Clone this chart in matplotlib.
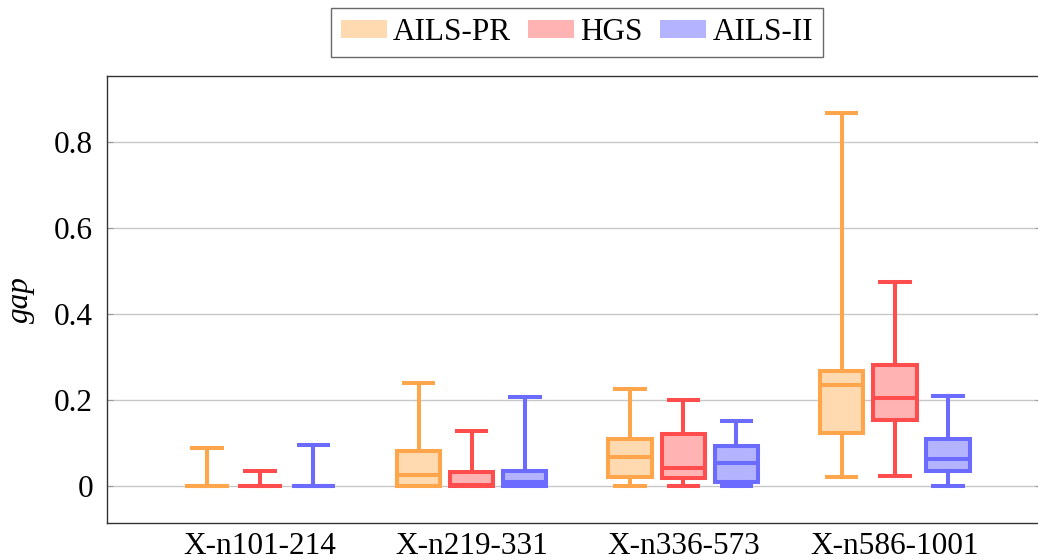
import numpy as np
import matplotlib
matplotlib.use("Agg")
import matplotlib.pyplot as plt
from matplotlib.patches import Patch

plt.rcParams['font.family'] = ['Liberation Serif', 'DejaVu Serif']
plt.rcParams['mathtext.fontset'] = 'stix'

groups = ['X-n101-214', 'X-n219-331', 'X-n336-573', 'X-n586-1001']
methods = ['AILS-PR', 'HGS', 'AILS-II']

# box stats per method, one value per group
whislo = {'AILS-PR': [0.0, 0.0, 0.0, 0.022],
          'HGS':     [0.0, 0.0, 0.0, 0.024],
          'AILS-II': [0.0, 0.0, 0.0, 0.001]}
q1 = {'AILS-PR': [0.0, 0.0, 0.021, 0.123],
      'HGS':     [0.0, 0.0, 0.018, 0.154],
      'AILS-II': [0.0, 0.0, 0.009, 0.036]}
med = {'AILS-PR': [0.0, 0.025, 0.067, 0.236],
       'HGS':     [0.0, 0.002, 0.043, 0.206],
       'AILS-II': [0.0, 0.010, 0.053, 0.063]}
q3 = {'AILS-PR': [0.0, 0.081, 0.110, 0.269],
      'HGS':     [0.0, 0.034, 0.121, 0.281],
      'AILS-II': [0.0, 0.036, 0.094, 0.110]}
whishi = {'AILS-PR': [0.088, 0.241, 0.227, 0.867],
          'HGS':     [0.036, 0.129, 0.201, 0.475],
          'AILS-II': [0.095, 0.208, 0.151, 0.210]}

edge_colors = {'AILS-PR': '#FFA64D', 'HGS': '#FF4D4D', 'AILS-II': '#6B6BFF'}
fill_colors = {'AILS-PR': '#FFD9B0', 'HGS': '#FFB3B3', 'AILS-II': '#B3B3FF'}

fig = plt.figure(figsize=(10.38, 5.6), dpi=100)
# the right edge of the frame sits just past the picture, as in the reference
ax = fig.add_axes([107 / 1038, 37.3 / 560, (1041 - 107) / 1038, 446.7 / 560])

centers = np.arange(1, len(groups) + 1)
offsets = [-0.251, 0.0, 0.251]
width = 0.205

for m, off in zip(methods, offsets):
    stats = []
    for i in range(len(groups)):
        stats.append({'whislo': whislo[m][i], 'q1': q1[m][i], 'med': med[m][i],
                      'q3': q3[m][i], 'whishi': whishi[m][i], 'fliers': []})
    ec = edge_colors[m]
    lw = 2.9
    ax.bxp(stats, positions=centers + off, widths=width, patch_artist=True,
           showfliers=False, capwidths=0.158,
           boxprops=dict(facecolor=fill_colors[m], edgecolor=ec, linewidth=lw),
           medianprops=dict(color=ec, linewidth=lw, solid_capstyle='butt'),
           whiskerprops=dict(color=ec, linewidth=lw),
           capprops=dict(color=ec, linewidth=lw, solid_capstyle='butt'),
           manage_ticks=False, zorder=3)

ax.set_xlim(0.276, 4.691)
ax.set_ylim(-0.085, 0.954)
ax.set_xticks(centers)
ax.set_xticklabels(groups, fontsize=22.5)
ax.set_yticks([0, 0.2, 0.4, 0.6, 0.8])
ax.set_yticklabels(['0', '0.2', '0.4', '0.6', '0.8'], fontsize=22.5)
ax.tick_params(axis='x', length=0, pad=7)
ax.tick_params(axis='y', direction='in', length=4, color='#999999',
               right=True, pad=10)
ax.yaxis.grid(True, color='#c8c8c8', linewidth=1.0, zorder=0)
ax.set_axisbelow(True)
for s in ax.spines.values():
    s.set_color('#333333')
    s.set_linewidth(1.0)

ax.set_ylabel('gap', fontsize=22.5, style='italic', labelpad=14)

handles = [Patch(facecolor=fill_colors[m], edgecolor='none') for m in methods]
leg = fig.legend(handles, methods, loc='lower center',
                 bbox_to_anchor=(577 / 1038, 503 / 560),
                 ncol=3, fontsize=22.5, frameon=True, fancybox=False,
                 handlelength=1.47, handleheight=0.5, handletextpad=0.2,
                 columnspacing=0.55, borderpad=0.32, borderaxespad=0)
leg.get_frame().set_edgecolor('#444444')
leg.get_frame().set_linewidth(1.0)

fig.savefig('out.png', dpi=100)
